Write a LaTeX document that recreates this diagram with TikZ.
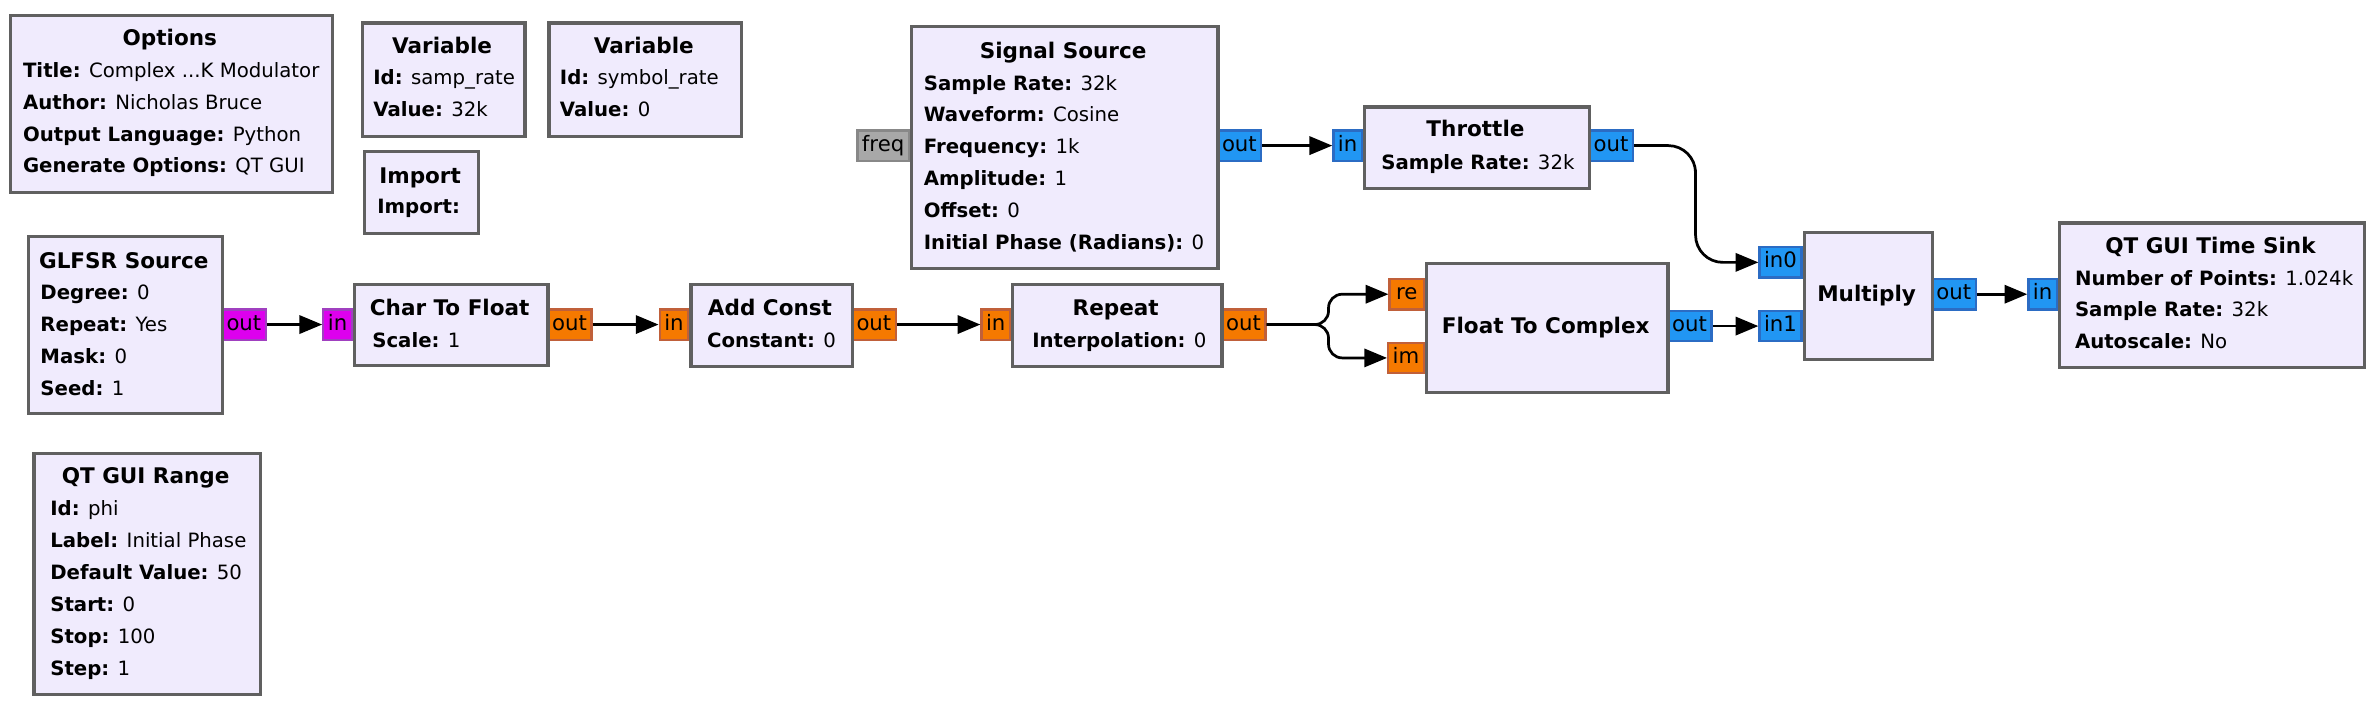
\documentclass[tikz,border=0pt]{standalone}
\usepackage{fontspec}
\setmainfont{DejaVu Sans}
\usetikzlibrary{arrows.meta}
\definecolor{blockfill}{HTML}{F0EBFD}
\definecolor{blockdraw}{HTML}{606060}
\definecolor{magfill}{HTML}{DD00EE}
\definecolor{magdraw}{HTML}{A040C0}
\definecolor{orfill}{HTML}{F57900}
\definecolor{ordraw}{HTML}{C0603A}
\definecolor{blfill}{HTML}{2196F3}
\definecolor{bldraw}{HTML}{2B6CC4}
\definecolor{grfill}{HTML}{A8A8A8}
\definecolor{grdraw}{HTML}{888888}
\newcommand\kvx[2]{\textbf{#1:} #2}
\tikzset{
  block/.style={draw=blockdraw, fill=blockfill, line width=2.2pt, inner sep=0pt, anchor=north west},
  port/.style={line width=1.5pt, minimum height=20pt, inner xsep=3pt, inner ysep=0pt,
    text height=10pt, text depth=2.7pt, font=\fontsize{14}{16}\selectfont},
  pmag/.style={port, draw=magdraw, fill=magfill},
  porn/.style={port, draw=ordraw, fill=orfill},
  pblu/.style={port, draw=bldraw, fill=blfill},
  pgry/.style={port, draw=grdraw, fill=grfill},
  ttl/.style={font=\fontsize{14.2}{16}\selectfont\bfseries, inner sep=0pt, anchor=base},
  body/.style={font=\fontsize{13}{15}\selectfont, inner sep=0pt, anchor=base west},
  conn/.style={line width=1.8pt, -{Triangle[length=15pt,width=12pt]}},
}
\begin{document}
\begin{tikzpicture}[x=1pt,y=-1pt]
\useasboundingbox (0,0) rectangle (1568,469);

% ---------- ports ----------
\node[pmag, anchor=west] (glfsr-out) at (145.6,214) {out};
\node[pmag, anchor=east] (c2f-in) at (232.7,214) {in};
\node[porn, anchor=west] (c2f-out) at (360.3,214) {out};
\node[porn, anchor=east] (addc-in) at (454.5,214) {in};
\node[porn, anchor=west] (addc-out) at (561,214) {out};
\node[porn, anchor=east] (rep-in) at (666.7,214) {in};
\node[porn, anchor=west] (rep-out) at (804.7,214) {out};
\node[porn, anchor=east, minimum width=22.6pt] (ftc-re) at (939.6,194) {re};
\node[porn, anchor=east, minimum width=22.6pt] (ftc-im) at (939.6,236) {im};
\node[pblu, anchor=west] (ftc-out) at (1098.8,215) {out};
\node[pblu, anchor=east] (mul-in0) at (1188.6,173) {in0};
\node[pblu, anchor=east] (mul-in1) at (1188.6,215) {in1};
\node[pblu, anchor=west] (mul-out) at (1273,194) {out};
\node[pblu, anchor=east] (sink-in) at (1357,194) {in};
\node[pgry, anchor=east] (ss-freq) at (600,96) {freq};
\node[pblu, anchor=west] (ss-out) at (802,96) {out};
\node[pblu, anchor=east] (thr-in) at (898.7,96) {in};
\node[pblu, anchor=west] (thr-out) at (1047,96) {out};

% ---------- blocks ----------
\node[block, minimum width=212pt, minimum height=117pt] (opt) at (6,9) {};
\node[block, minimum width=107pt, minimum height=75pt] (var1) at (238,14) {};
\node[block, minimum width=127pt, minimum height=75pt] (var2) at (361,14) {};
\node[block, minimum width=75pt, minimum height=54pt] (imp) at (239.4,99) {};
\node[block, minimum width=128pt, minimum height=116.6pt] (glfsr) at (17.7,155) {};
\node[block, minimum width=127.6pt, minimum height=53.4pt] (c2f) at (232.7,186.6) {};
\node[block, minimum width=106.5pt, minimum height=54.3pt] (addc) at (454.5,186.4) {};
\node[block, minimum width=138pt, minimum height=54.3pt] (rep) at (666.7,186.4) {};
\node[block, minimum width=159.2pt, minimum height=85.1pt] (ftc) at (939.6,172.5) {};
\node[block, minimum width=84.4pt, minimum height=84pt] (mul) at (1188.6,152) {};
\node[block, minimum width=201pt, minimum height=95.4pt] (sink) at (1357,146) {};
\node[block, minimum width=202pt, minimum height=159.5pt] (ss) at (600,16.5) {};
\node[block, minimum width=148.3pt, minimum height=53.5pt] (thr) at (898.7,69.5) {};
\node[block, minimum width=149.5pt, minimum height=159pt] (rng) at (21.3,298) {};

% ---------- texts ----------
\node[ttl] (opt-t) at (112,29.7) {Options};
\node[body] (opt-1) at (15,50.9) {\kvx{Title}{Complex ...K Modulator}};
\node[body] (opt-2) at (15,72) {\kvx{Author}{Nicholas Bruce}};
\node[body] (opt-3) at (15,93) {\kvx{Output Language}{Python}};
\node[body] (opt-4) at (15,114) {\kvx{Generate Options}{QT GUI}};

\node[ttl] (var1-t) at (291.5,35.2) {Variable};
\node[body] (var1-1) at (246,56) {\kvx{Id}{samp\_rate}};
\node[body] (var1-2) at (246,77) {\kvx{Value}{32k}};

\node[ttl] (var2-t) at (424.5,35.2) {Variable};
\node[body] (var2-1) at (369,56) {\kvx{Id}{symbol\_rate}};
\node[body] (var2-2) at (369,77) {\kvx{Value}{0}};

\node[ttl] (imp-t) at (277,120.9) {Import};
\node[body] (imp-1) at (248.6,140.7) {\textbf{Import:}};

\node[ttl] (glfsr-t) at (81.6,176.9) {GLFSR Source};
\node[body] (glfsr-1) at (26.5,197.8) {\kvx{Degree}{0}};
\node[body] (glfsr-2) at (26.5,218.8) {\kvx{Repeat}{Yes}};
\node[body] (glfsr-3) at (26.5,239.6) {\kvx{Mask}{0}};
\node[body] (glfsr-4) at (26.5,260.5) {\kvx{Seed}{1}};

\node[ttl] (c2f-t) at (296.5,208.3) {Char To Float};
\node[body] (c2f-1) at (245.3,229.2) {\kvx{Scale}{1}};

\node[ttl] (addc-t) at (507.7,207.7) {Add Const};
\node[body] (addc-1) at (466,229) {\kvx{Constant}{0}};

\node[ttl] (rep-t) at (735.7,207.7) {Repeat};
\node[body] (rep-1) at (680.5,229) {\kvx{Interpolation}{0}};

\node[ttl] (ftc-t) at (1019.2,219.7) {Float To Complex};

\node[ttl] (mul-t) at (1230.8,199) {Multiply};

\node[ttl] (sink-t) at (1457.5,167) {QT GUI Time Sink};
\node[body] (sink-1) at (1368,188) {\kvx{Number of Points}{1.024k}};
\node[body] (sink-2) at (1368,208.8) {\kvx{Sample Rate}{32k}};
\node[body] (sink-3) at (1368,229.6) {\kvx{Autoscale}{No}};

\node[ttl] (ss-t) at (701,38.5) {Signal Source};
\node[body] (ss-1) at (609,59.4) {\kvx{Sample Rate}{32k}};
\node[body] (ss-2) at (609,80.3) {\kvx{Waveform}{Cosine}};
\node[body] (ss-3) at (609,101.5) {\kvx{Frequency}{1k}};
\node[body] (ss-4) at (609,122.4) {\kvx{Amplitude}{1}};
\node[body] (ss-5) at (609,143.3) {\kvx{Offset}{0}};
\node[body] (ss-6) at (609,164.8) {\kvx{Initial Phase (Radians)}{0}};

\node[ttl] (thr-t) at (972.9,90) {Throttle};
\node[body] (thr-1) at (910.6,112) {\kvx{Sample Rate}{32k}};

\node[ttl] (rng-t) at (96,318.6) {QT GUI Range};
\node[body] (rng-1) at (33,339.6) {\kvx{Id}{phi}};
\node[body] (rng-2) at (33,360.8) {\kvx{Label}{Initial Phase}};
\node[body] (rng-3) at (33,381.8) {\kvx{Default Value}{50}};
\node[body] (rng-4) at (33,403.4) {\kvx{Start}{0}};
\node[body] (rng-5) at (33,424) {\kvx{Stop}{100}};
\node[body] (rng-6) at (33,445.6) {\kvx{Step}{1}};

% ---------- connectors ----------
\draw[conn] (glfsr-out.east) -- (c2f-in.west);
\draw[conn] (c2f-out.east) -- (addc-in.west);
\draw[conn] (addc-out.east) -- (rep-in.west);
\coordinate (split) at (876,214);
\draw[conn, rounded corners=9pt] (rep-out.east) -- (split) |- (ftc-re.west);
\draw[conn, rounded corners=9pt] (rep-out.east) -- (split) |- (ftc-im.west);
\draw[conn] (ftc-out.east) -- (mul-in1.west);
\draw[conn] (ss-out.east) -- (thr-in.west);
\coordinate (tbend) at (1118,130);
\draw[conn, rounded corners=18pt] (thr-out.east) -| (tbend) |- (mul-in0.west);
\draw[conn] (mul-out.east) -- (sink-in.west);
\end{tikzpicture}
\end{document}
